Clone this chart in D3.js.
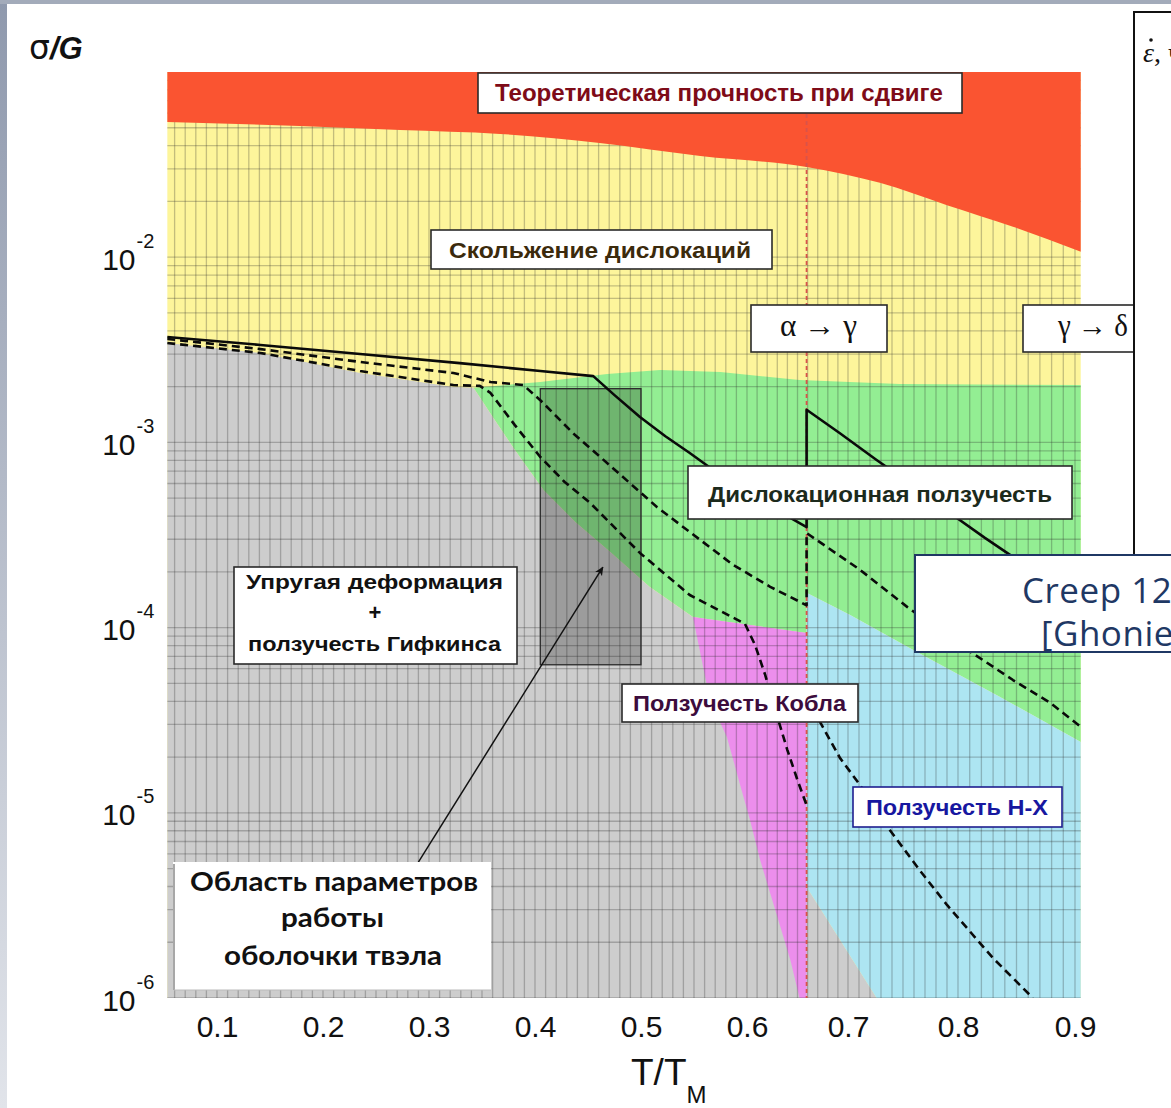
<!DOCTYPE html>
<html><head><meta charset="utf-8">
<script src="https://cdn.jsdelivr.net/npm/d3@7"></script>
<style>body{margin:0;background:#fff}svg{display:block}</style>
</head><body>
<svg id="c" width="1171" height="1108"></svg>
<script>
// ---------------- DATA (T/Tm, sigma/G) ----------------
const xTicks = [0.1, 0.2, 0.3, 0.4, 0.5, 0.6, 0.7, 0.8, 0.9];
const yTicks = [1e-6, 1e-5, 1e-4, 1e-3, 1e-2];
const yTickExp = ["-6", "-5", "-4", "-3", "-2"];
const xMin = 0.053, xMax = 0.905, yMin = 1e-6, yMax = 1e-1;
const alphaGamma = 0.659;

const redBoundary = [[0.053,5.37e-2],[0.178,5.11e-2],[0.273,4.86e-2],[0.367,4.63e-2],[0.461,4.14e-2],[0.556,3.52e-2],[0.659,3.07e-2],[0.729,2.52e-2],[0.790,1.91e-2],[0.847,1.46e-2],[0.905,1.07e-2]];
const greyTop = [[0.053,3.44e-3],[0.141,3.04e-3],[0.235,2.37e-3],[0.323,1.99e-3],[0.342,1.97e-3]];
const greyGreen = [[0.342,1.97e-3],[0.362,1.32e-3],[0.381,9.10e-4],[0.408,5.53e-4],[0.438,3.72e-4],[0.471,2.56e-4],[0.508,1.66e-4],[0.549,1.14e-4]];
const pinkTop = [[0.549,1.14e-4],[0.659,9.35e-5]];
const pinkLeft = [[0.652,1e-6],[0.643,1.60e-6],[0.628,2.99e-6],[0.613,5.56e-6],[0.603,9.14e-6],[0.593,1.45e-5],[0.581,2.57e-5],[0.565,4.07e-5],[0.549,1.14e-4]];
const cyanTop = [[0.659,1.54e-4],[0.702,1.17e-4],[0.761,7.47e-5],[0.836,4.22e-5],[0.905,2.41e-5]];
const greyCyan = [[0.726,1e-6],[0.659,3.98e-6]];
const greenTop = [[0.342,1.97e-3],[0.405,2.12e-3],[0.468,2.34e-3],[0.518,2.46e-3],[0.575,2.40e-3],[0.652,2.17e-3],[0.747,2.07e-3],[0.905,2.04e-3]];

const solidAlpha = [[0.053,3.71e-3],[0.141,3.36e-3],[0.235,3.00e-3],[0.329,2.68e-3],[0.405,2.43e-3],[0.455,2.28e-3],[0.475,1.80e-3],[0.499,1.37e-3],[0.523,1.08e-3],[0.546,8.77e-4],[0.593,5.60e-4],[0.643,3.91e-4],[0.659,3.49e-4]];
const solidGamma = [[0.659,1.50e-3],[0.692,1.12e-3],[0.726,8.04e-4],[0.765,5.53e-4],[0.799,3.91e-4],[0.823,3.05e-4],[0.847,2.41e-4],[0.905,1.41e-4]];
const dashAAlpha = [[0.053,3.62e-3],[0.141,3.19e-3],[0.235,2.72e-3],[0.323,2.37e-3],[0.358,2.12e-3],[0.389,2.04e-3],[0.405,1.69e-3],[0.436,1.12e-3],[0.468,7.74e-4],[0.515,4.48e-4],[0.556,2.97e-4],[0.587,2.18e-4],[0.623,1.66e-4],[0.659,1.32e-4]];
const dashAGamma = [[0.659,3.24e-4],[0.711,2.05e-4],[0.754,1.29e-4],[0.802,8.05e-5],[0.847,5.21e-5],[0.879,3.92e-5],[0.905,2.91e-5]];
const dashBAlpha = [[0.053,3.44e-3],[0.141,3.04e-3],[0.235,2.43e-3],[0.323,2.04e-3],[0.348,2.02e-3],[0.358,1.85e-3],[0.381,1.24e-3],[0.405,8.34e-4],[0.428,6.11e-4],[0.452,4.71e-4],[0.499,2.53e-4],[0.546,1.50e-4],[0.598,1.05e-4],[0.608,8.05e-5],[0.618,5.55e-5],[0.628,3.59e-5],[0.640,2.18e-5],[0.650,1.50e-5],[0.659,1.10e-5]];
const dashBGamma = [[0.659,4.17e-5],[0.675,2.91e-5],[0.692,1.98e-5],[0.711,1.41e-5],[0.738,8.08e-6],[0.765,4.91e-6],[0.790,3.18e-6],[0.830,1.64e-6],[0.864,1e-6]];

const workBox = {t0:0.405, t1:0.500, s0:6.3e-5, s1:1.95e-3};
const arrowFrom = [0.290,5.42e-6], arrowTo = [0.464,2.12e-4];

const txtTheor = "Теоретическая прочность при сдвиге";
const txtGlide = "Скольжение дислокаций";
const txtDisl = "Дислокационная ползучесть";
const txtElastic = ["Упругая деформация","+","ползучесть Гифкинса"];
const txtCoble = "Ползучесть Кобла";
const txtHX = "Ползучесть Н-Х";
const txtAG = "α → γ", txtGD = "γ → δ";
const txtWork = ["Область параметров","работы","оболочки твэла"];
const txtCreep = ["Creep 12Cr-ODS","[Ghoniem]"];

// ---------------- SCALES ----------------
const x = d3.scaleLinear().domain([0.1,0.6,0.7,0.8,0.9]).range([217,747,848,958,1075]);
const y = d3.scaleLog().domain([yMin,yMax]).range([998,72]);
const X0 = x(xMin), X1 = x(xMax), Y0 = y(yMax), Y1 = y(yMin);

const svg = d3.select("#c");
const defs = svg.append("defs");
const lg = defs.append("linearGradient").attr("id","lg").attr("x1",0).attr("y1",0).attr("x2",0).attr("y2",1);
lg.append("stop").attr("offset","0").attr("stop-color","#8f99ad");
lg.append("stop").attr("offset","1").attr("stop-color","#e1e4ea");
defs.append("clipPath").attr("id","plotclip").append("rect").attr("x",X0).attr("y",Y0).attr("width",X1-X0).attr("height",Y1-Y0);
defs.append("marker").attr("id","ah").attr("viewBox","0 0 10 10").attr("refX",9).attr("refY",5)
  .attr("markerWidth",9).attr("markerHeight",9).attr("orient","auto").attr("markerUnits","userSpaceOnUse")
  .append("path").attr("d","M0,0.5 L10,5 L0,9.5 L2.5,5 Z").attr("fill","#111");

svg.append("rect").attr("width",1171).attr("height",1108).attr("fill","#fff");
svg.append("rect").attr("x",0).attr("y",0).attr("width",7).attr("height",1108).attr("fill","url(#lg)");
svg.append("rect").attr("x",0).attr("y",0).attr("width",1171).attr("height",4).attr("fill","#a3abba");

const line = d3.line().x(d=>x(d[0])).y(d=>y(d[1]));
const smooth = d3.line().x(d=>x(d[0])).y(d=>y(d[1])).curve(d3.curveMonotoneX);
const plot = svg.append("g").attr("clip-path","url(#plotclip)");
const poly = (pts, fill) => plot.append("path").attr("d", line(pts)+"Z").attr("fill", fill);
const rev = a => a.slice().reverse();

// regions
poly([[xMin,yMax],[xMax,yMax],[xMax,yMin],[xMin,yMin]], "#fdf59b");
poly([...greenTop, cyanTop[cyanTop.length-1], ...rev(cyanTop), pinkTop[1], ...rev(pinkTop), ...rev(greyGreen)], "#93ee93");
poly([...greyTop, ...greyGreen.slice(1), pinkTop[1], ...rev(greyCyan), [xMin,yMin]], "#cdcdcd");
poly([...pinkTop, [alphaGamma,yMin], ...pinkLeft], "#ec8eec");
poly([...cyanTop, [xMax,yMin], ...greyCyan], "#ade5f2");

// grid
const grid = plot.append("g").attr("stroke","rgba(40,40,40,0.27)").attr("stroke-width",1.3);
d3.range(6,91).map(i=>i/100).forEach(v=>{
  grid.append("line").attr("x1",x(v)).attr("x2",x(v)).attr("y1",Y0).attr("y2",Y1);
});
const hvals = [];
for (let k=-6;k<=-2;k++) for (let m=1;m<=9;m++) hvals.push(m*Math.pow(10,k));
hvals.forEach(v=>{
  grid.append("line").attr("x1",X0).attr("x2",X1).attr("y1",y(v)).attr("y2",y(v));
});

// red (theoretical strength) over grid, smooth lower edge
plot.append("path").attr("d", smooth(redBoundary) + `L${X1},${Y0}L${X0},${Y0}Z`).attr("fill","#fa5431");

// working parameters box
plot.append("rect").attr("x",x(workBox.t0)).attr("y",y(workBox.s1))
  .attr("width",x(workBox.t1)-x(workBox.t0)).attr("height",y(workBox.s0)-y(workBox.s1))
  .attr("fill","rgba(0,0,0,0.24)").attr("stroke","#2a2a2a").attr("stroke-width",1.3);

// alpha->gamma transition
plot.append("line").attr("x1",x(alphaGamma)).attr("x2",x(alphaGamma)).attr("y1",Y0).attr("y2",Y1)
  .attr("stroke","#d9534a").attr("stroke-width",1.8).attr("stroke-dasharray","4,3");

// contours
const cont = (pts, dashed) => plot.append("path").attr("d", line(pts)).attr("fill","none")
  .attr("stroke","#0a0a0a").attr("stroke-width",2.6).attr("stroke-linejoin","round")
  .attr("stroke-dasharray", dashed ? "8,5" : null);
cont([...solidAlpha, ...solidGamma], false);
cont([...dashAAlpha, ...dashAGamma], true);
cont(dashBAlpha, true);
cont(dashBGamma, true);

// ---------------- AXES ----------------
const FS = "'Liberation Sans', Arial, sans-serif";
const xAxis = svg.append("g").attr("transform",`translate(0,${Y1})`)
  .call(d3.axisBottom(x).tickValues(xTicks).tickSize(0).tickPadding(18).tickFormat(d3.format(".1f")));
xAxis.select(".domain").remove();
xAxis.selectAll("text").attr("font-family",FS).attr("font-size",30).attr("fill","#111");

const yAxis = svg.append("g").attr("transform",`translate(${X0},0)`)
  .call(d3.axisLeft(y).tickValues(yTicks).tickSize(0).tickFormat(()=>""));
yAxis.select(".domain").remove();
yAxis.selectAll("text").each(function(d,i){
  const t = d3.select(this).attr("x",-65).attr("y",12).attr("dy",null).attr("text-anchor","start")
    .attr("font-family",FS).attr("font-size",30).attr("fill","#111");
  t.append("tspan").text("10");
  t.append("tspan").attr("font-size",20).attr("dx",1).attr("dy",-22).text(yTickExp[i]);
});

// axis titles
const yt = svg.append("text").attr("x",29).attr("y",59).attr("fill","#111");
yt.append("tspan").attr("font-family","'DejaVu Sans', sans-serif").attr("font-size",33).text("σ");
yt.append("tspan").attr("font-family",FS).attr("font-weight","bold").attr("font-style","italic").attr("font-size",31).text("/G");
const xt = svg.append("text").attr("x",631).attr("y",1085).attr("font-family",FS).attr("fill","#111");
xt.append("tspan").attr("font-size",37).text("T/T");
xt.append("tspan").attr("font-size",24).attr("dy",18).text("M");

// arrow
svg.append("line").attr("x1",x(arrowFrom[0])).attr("y1",y(arrowFrom[1])).attr("x2",x(arrowTo[0])).attr("y2",y(arrowTo[1]))
  .attr("stroke","#111").attr("stroke-width",1.5).attr("marker-end","url(#ah)");

// ---------------- LABEL BOXES ----------------
function box(bx,by,bw,bh,stroke){
  return svg.append("rect").attr("x",bx).attr("y",by).attr("width",bw).attr("height",bh)
    .attr("fill","#fff").attr("stroke",stroke||"#2a2a2a").attr("stroke-width",1.6);
}
function txt(s,tx,ty,opts){
  const t = svg.append("text").attr("x",tx).attr("y",ty).text(s)
    .attr("font-family",opts.family||FS).attr("font-weight",opts.weight||"bold")
    .attr("font-size",opts.size||22).attr("fill",opts.color||"#111")
    .attr("text-anchor",opts.anchor||"start");
  if (opts.w) t.attr("textLength",opts.w).attr("lengthAdjust","spacingAndGlyphs");
  if (opts.style) t.attr("font-style",opts.style);
  if (opts.ls) t.attr("letter-spacing",opts.ls);
  return t;
}
box(478,73,484,40); txt(txtTheor,495,101,{size:23,w:448,color:"#7e0b18"});
box(431,230,341,39); txt(txtGlide,449,258,{size:22,w:302,color:"#3b2a0c"});
box(688,466,384,53); txt(txtDisl,708,502,{size:22,w:344,color:"#1c2a1c"});
box(234,567,283,97);
txt(txtElastic[0],246,589,{size:21,w:257});
txt(txtElastic[1],375,620,{size:22,anchor:"middle"});
txt(txtElastic[2],248,651,{size:21,w:253});
box(622,684,236,38); txt(txtCoble,633,711,{size:22,w:213,color:"#3c0c3c"});
box(853,787,209,40,"#1f1f8f"); txt(txtHX,866,815,{size:22,w:182,color:"#1717a0"});
const SER = "'Liberation Serif', 'Times New Roman', serif";
box(751,305,136,47); txt(txtAG,780,336,{family:SER,weight:"normal",size:31,w:77});
box(1023,305,125,47); txt(txtGD,1058,336,{family:SER,weight:"normal",size:31,w:70});

// working-area label
svg.append("rect").attr("x",173).attr("y",862).attr("width",318).attr("height",128).attr("fill","#fff");
svg.append("line").attr("x1",174).attr("x2",174).attr("y1",864).attr("y2",990).attr("stroke","#8a8a8a").attr("stroke-width",1.5);
svg.append("line").attr("x1",174).attr("x2",491).attr("y1",990).attr("y2",990).attr("stroke","#bbb").attr("stroke-width",1);
const LAT = "Lato, 'Open Sans', sans-serif";
txt(txtWork[0],190,891,{family:LAT,size:27,w:288,color:"#111"});
txt(txtWork[1],281,927,{family:LAT,size:27,w:103,color:"#111"});
txt(txtWork[2],224,965,{family:LAT,size:27,w:218,color:"#111"});

// right panel (cut off at the page edge, as in the source)
svg.append("rect").attr("x",1134).attr("y",12).attr("width",80).attr("height",560).attr("fill","#fff").attr("stroke","#111").attr("stroke-width",2);
const ep = svg.append("text").attr("x",1143).attr("y",62).attr("font-family",SER).attr("font-size",28).attr("fill","#111");
ep.append("tspan").attr("font-style","italic").text("ε");
ep.append("tspan").text(", ч");
svg.append("circle").attr("cx",1151).attr("cy",40).attr("r",1.8).attr("fill","#111");

// creep box (cut off at the page edge, as in the source)
svg.append("rect").attr("x",915).attr("y",555).attr("width",320).attr("height",97).attr("fill","#fff").attr("stroke","#1f3864").attr("stroke-width",2);
txt(txtCreep[0],1022,603,{family:"'Open Sans', Lato, sans-serif",weight:"normal",size:35,color:"#1f3864",ls:0.5});
txt(txtCreep[1],1041,646,{family:"'Open Sans', Lato, sans-serif",weight:"normal",size:35,color:"#1f3864",ls:0.5});
</script>
</body></html>
